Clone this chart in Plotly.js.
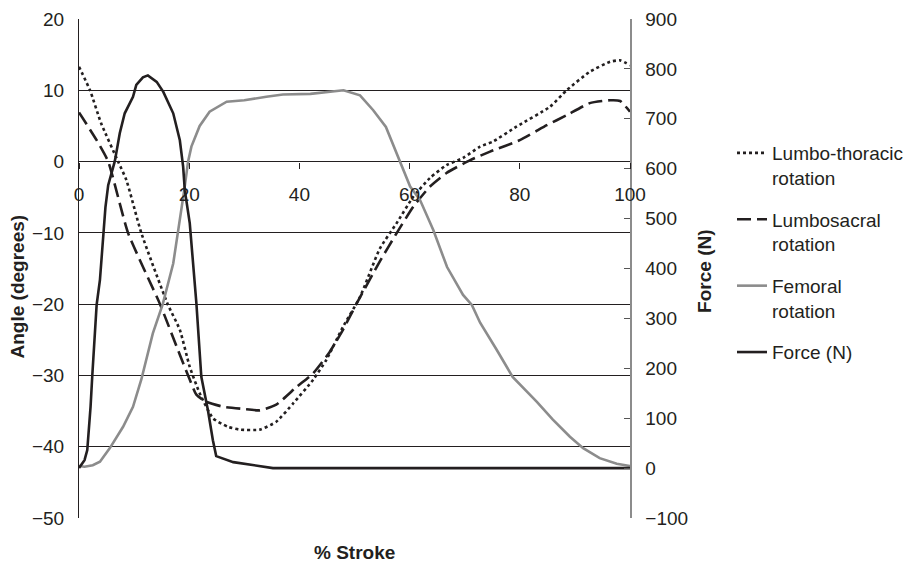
<!DOCTYPE html>
<html>
<head>
<meta charset="utf-8">
<script src="https://cdn.plot.ly/plotly-3.0.1.min.js"></script>
<style>html,body{margin:0;padding:0;background:#fff;}#chart{width:914px;height:565px;}</style>
</head>
<body>
<div id="chart"></div>
<script>
// Lumbo-thoracic rotation (degrees)
const ltX = [0, 2, 4, 7.1, 8.6, 11.3, 16.1, 18.3, 20.1, 21.9, 24.3, 27, 29.2, 32.8, 35.8, 38.9, 42.5, 44.9, 47.9, 51, 54.6, 57.6, 60.7, 63.7, 66.7, 69.7, 72.8, 75.1, 79.4, 85.5, 88.5, 92.7, 96.4, 98.2, 100];
const ltY = [13.3, 10, 5.4, 0, -2.6, -10, -20, -23.6, -28.8, -32.5, -36.0, -37.2, -37.6, -37.6, -36.5, -33.9, -30.6, -27.8, -23.2, -19.0, -12.2, -8.7, -4.9, -2.3, -0.5, 0.5, 2.1, 2.8, 4.9, 7.7, 10.0, 12.6, 14.0, 14.2, 13.5];

// Lumbosacral rotation (degrees)
const lsX = [0, 3.2, 5.3, 8.9, 14.7, 18.3, 19.8, 21.3, 23.1, 26.2, 29.8, 32.8, 35.8, 39.5, 42.5, 45.5, 47.9, 50.4, 54.6, 57.6, 60.7, 63.7, 66.7, 71, 74.6, 80, 84.9, 88.5, 92.7, 96.4, 98.2, 100];
const lsY = [6.9, 3.0, 0, -10, -20, -27.1, -30, -32.7, -33.7, -34.4, -34.7, -34.9, -34.1, -31.6, -29.7, -26.7, -23.6, -19.9, -14.0, -10.1, -6.3, -3.5, -1.6, 0.2, 1.4, 3.0, 5.1, 6.5, 8.2, 8.6, 8.5, 7.0];

// Femoral rotation (degrees)
const femX = [0, 1, 2.5, 3.8, 5.6, 8, 9.8, 11.3, 13.4, 15.2, 17.1, 18, 19.1, 19.8, 20.4, 21.9, 23.7, 26.8, 30, 34, 37, 42, 45, 48, 51, 53.4, 55.7, 58.2, 60.1, 61.9, 64.3, 66.8, 69.7, 71.3, 72.8, 75.8, 78.7, 83.1, 86, 89.1, 91.5, 94.5, 97.6, 100];
const femY = [-42.7, -42.8, -42.6, -42.1, -40.2, -37.2, -34.4, -30.6, -24.1, -20, -14.3, -9.9, -4.0, 0, 2.1, 5.0, 7.0, 8.4, 8.6, 9.1, 9.4, 9.5, 9.8, 10, 9.3, 7.2, 4.85, 0.2, -3.5, -5.4, -9.6, -14.8, -18.7, -20.1, -22.6, -26.4, -30.2, -33.7, -36.2, -38.6, -40.2, -41.6, -42.4, -42.7];

// Force (N)
const fX = [0, 1.0, 1.5, 1.8, 2.1, 2.4, 3.2, 3.8, 4.3, 4.8, 5.3, 6.5, 7.4, 8.3, 9.8, 10.4, 11.6, 12.5, 14.1, 15.3, 17.1, 18.3, 18.9, 19.2, 20.1, 21.3, 22.2, 23.4, 24.3, 24.9, 28, 31.6, 35.2, 100];
const fY = [0, 16, 36, 76, 123, 183, 327, 377, 451, 523, 567, 615, 671, 711, 744, 768, 783, 787, 774, 754, 711, 657, 604, 557, 491, 331, 183, 116, 56, 24, 12, 6, 0, 0];

const seriesNames = ['Lumbo-thoracic<br>rotation', 'Lumbosacral<br>rotation', 'Femoral<br>rotation', 'Force (N)'];
const xTitle = '% Stroke';
const yTitle = 'Angle (degrees)';
const y2Title = 'Force (N)';

const FONT = 'Liberation Sans, Arial, Helvetica, sans-serif';
const TXT = '#231f20';

const traces = [
  {x: ltX, y: ltY, name: seriesNames[0], legendgroup: 'a', mode: 'lines', line: {color: '#231f20', width: 2.6, dash: 'dot', shape: 'spline', smoothing: 0.5}},
  {x: lsX, y: lsY, name: seriesNames[1], legendgroup: 'b', mode: 'lines', line: {color: '#231f20', width: 2.6, dash: '14px,6px', shape: 'spline', smoothing: 0.5}},
  {x: femX, y: femY, name: seriesNames[2], legendgroup: 'c', mode: 'lines', line: {color: '#8c8c8c', width: 2.6}},
  {x: fX, y: fY, name: seriesNames[3], legendgroup: 'd', yaxis: 'y2', mode: 'lines', line: {color: '#231f20', width: 2.6}}
];

const layout = {
  width: 914, height: 565,
  margin: {l: 79, r: 284, t: 19, b: 47, autoexpand: false},
  paper_bgcolor: '#fff', plot_bgcolor: '#fff',
  font: {family: FONT, size: 19, color: TXT},
  showlegend: true,
  legend: {
    xref: 'container', yref: 'container',
    x: 732 / 914, xanchor: 'left', y: (565 - 134) / 565, yanchor: 'top',
    font: {family: FONT, size: 19, color: TXT},
    traceorder: 'grouped', tracegroupgap: 14, valign: 'top',
    bgcolor: 'rgba(0,0,0,0)'
  },
  xaxis: {
    range: [0, 100], dtick: 20, tick0: 0,
    anchor: 'free', position: 50 / 70,
    showline: false,
    ticks: 'outside', ticklen: 6, tickcolor: TXT, tickwidth: 1,
    ticklabelstandoff: 10,
    showgrid: false, zeroline: false,
    tickfont: {family: FONT, size: 19, color: TXT}
  },
  yaxis: {
    range: [-50, 20], dtick: 10, tick0: 0,
    showline: true, linecolor: TXT, linewidth: 1,
    showgrid: true, gridcolor: TXT, gridwidth: 1,
    ticks: '', zeroline: false,
    ticklabelstandoff: 10,
    tickfont: {family: FONT, size: 19, color: TXT}
  },
  yaxis2: {
    range: [-100, 900], dtick: 100, tick0: 0,
    overlaying: 'y', side: 'right',
    showline: true, linecolor: '#8c8c8c', linewidth: 1.5,
    ticks: 'inside', ticklen: 6, tickcolor: '#555', tickwidth: 1,
    showgrid: false, zeroline: false,
    ticklabelstandoff: 10,
    tickfont: {family: FONT, size: 19, color: TXT}
  },
  annotations: [
    {text: '<b>' + xTitle + '</b>', xref: 'paper', yref: 'paper', x: 0.5003, y: -0.0695, xanchor: 'center', yanchor: 'middle', showarrow: false, font: {family: FONT, size: 19, color: TXT}},
    {text: '<b>' + yTitle + '</b>', xref: 'paper', yref: 'paper', x: -0.1113, y: 0.4633, xanchor: 'center', yanchor: 'middle', textangle: -90, showarrow: false, font: {family: FONT, size: 19, color: TXT}},
    {text: '<b>' + y2Title + '</b>', xref: 'paper', yref: 'paper', x: 1.1362, y: 0.4933, xanchor: 'center', yanchor: 'middle', textangle: -90, showarrow: false, font: {family: FONT, size: 19, color: TXT}}
  ]
};

Plotly.newPlot('chart', traces, layout, {staticPlot: true, displayModeBar: false});
</script>
</body>
</html>
